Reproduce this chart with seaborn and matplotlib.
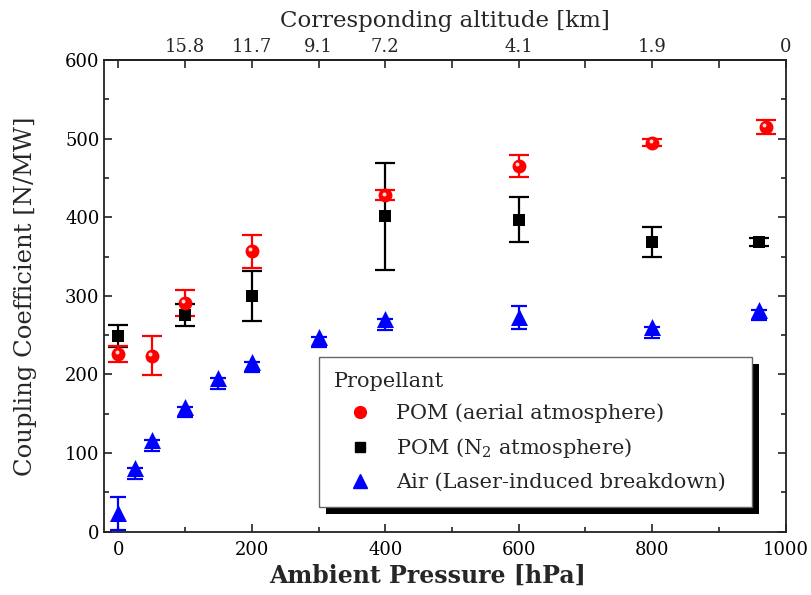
import matplotlib
matplotlib.use("Agg")
import matplotlib.pyplot as plt
import matplotlib.transforms as mtransforms
from matplotlib.lines import Line2D
from matplotlib import patheffects as pe
from matplotlib.ticker import MultipleLocator, FixedLocator
import pandas as pd
import seaborn as sns

# ---- data ----
aerial_p = [0, 50, 100, 200, 400, 600, 800, 970]
aerial_c = [226, 224, 291, 357, 428, 465, 495, 515]
aerial_err = [10, 25, 17, 21, 6, 14, 5, 9]

n2_p = [0, 100, 200, 400, 600, 800, 960]
n2_c = [249, 275, 300, 401, 397, 368, 368]
n2_err = [14, 14, 32, 68, 29, 19, 5]

air_p = [0, 25, 50, 100, 150, 200, 300, 400, 600, 800, 960]
air_c = [24, 81, 117, 159, 195, 216, 248, 270, 273, 260, 282]
air_err_lo = [22, 14, 14, 13, 14, 13, 13, 14, 15, 13, 13]
air_err_hi = [20, 0, 0, 0, 0, 0, 0, 0, 14, 0, 0]

alt_pos = [100, 200, 300, 400, 600, 800, 1000]
alt_labels = ["15.8", "11.7", "9.1", "7.2", "4.1", "1.9", "0"]

labels = ["POM (aerial atmosphere)", "POM (N$_2$ atmosphere)",
          "Air (Laser-induced breakdown)"]

sns.set_theme(style="ticks")
plt.rcParams["font.family"] = ["DejaVu Serif"]
plt.rcParams["mathtext.fontset"] = "dejavuserif"

fig = plt.figure(figsize=(8.11, 5.95), dpi=100)
ax = fig.add_axes([0.1286, 0.1064, 0.8402, 0.7928])

df_a = pd.DataFrame({"p": aerial_p, "c": aerial_c, "e": aerial_err})
df_n = pd.DataFrame({"p": n2_p, "c": n2_c, "e": n2_err})
df_b = pd.DataFrame({"p": air_p, "c": air_c, "lo": air_err_lo, "hi": air_err_hi})

ekw = dict(fmt="none", elinewidth=1.6, capthick=1.6)
ax.errorbar(df_b["p"], df_b["c"], yerr=[df_b["lo"], df_b["hi"]],
            ecolor="#0000ff", zorder=2, capsize=6, **ekw)
ax.errorbar(df_n["p"], df_n["c"], yerr=df_n["e"], ecolor="black", zorder=2,
            capsize=7, **ekw)
ax.errorbar(df_a["p"], df_a["c"], yerr=df_a["e"], ecolor="#ff0000", zorder=2,
            capsize=7, **ekw)

sns.scatterplot(data=df_b, x="p", y="c", marker="^", s=150, color="#0000ff",
                linewidth=0, ax=ax, zorder=3)
sns.scatterplot(data=df_n, x="p", y="c", marker="s", s=85, color="black",
                linewidth=0, ax=ax, zorder=3)
sns.scatterplot(data=df_a, x="p", y="c", marker="o", s=100, color="#ff0000",
                linewidth=0, ax=ax, zorder=4)
hl = mtransforms.offset_copy(ax.transData, fig=fig, x=-1.2, y=1.2, units="points")
ax.scatter(df_a["p"], df_a["c"], s=8, color="#ffd8d8", linewidth=0,
           transform=hl, zorder=5)

ax.set_xlim(-21, 1000)
ax.set_ylim(0, 600)
ax.xaxis.set_major_locator(MultipleLocator(200))
ax.xaxis.set_minor_locator(MultipleLocator(100))
ax.yaxis.set_major_locator(MultipleLocator(100))
ax.yaxis.set_minor_locator(MultipleLocator(50))
ax.tick_params(which="both", direction="in", right=True, top=False,
               width=1.2, colors="#222222", labelcolor="black", labelsize=13)
ax.tick_params(which="major", length=6)
ax.tick_params(which="minor", length=3.5)
ax.tick_params(axis="x", pad=7)
for s in ax.spines.values():
    s.set_linewidth(1.3)
    s.set_color("#222222")

ax.set_xlabel("Ambient Pressure [hPa]", fontsize=17, fontweight="bold",
              labelpad=3, x=0.475)
ax.set_ylabel("Coupling Coefficient [N/MW]", fontsize=17.5, labelpad=20)

sec = ax.secondary_xaxis("top")
sec.xaxis.set_major_locator(FixedLocator(list(range(0, 1001, 100))))
lab_map = dict(zip(alt_pos, alt_labels))
sec.set_xticklabels([lab_map.get(v, "") for v in range(0, 1001, 100)])
sec.tick_params(direction="in", length=6, width=1.2, labelsize=13, pad=3)
sec.spines["top"].set_linewidth(1.3)
sec.set_xlabel("Corresponding altitude [km]", fontsize=16.5, labelpad=8)

handles = [
    Line2D([], [], marker="o", ls="none", color="#ff0000", markersize=8.5),
    Line2D([], [], marker="s", ls="none", color="black", markersize=7.5),
    Line2D([], [], marker="^", ls="none", color="#0000ff", markersize=10),
]
leg = ax.legend(handles, labels, title="Propellant", loc="upper left",
                bbox_to_anchor=(0.315, 0.0, 0.635, 0.37), mode="expand",
                borderaxespad=0, fontsize=15, title_fontsize=15, frameon=True,
                fancybox=False, alignment="left", handletextpad=0.5,
                labelspacing=0.62, borderpad=0.7, handlelength=2.5)
fr = leg.get_frame()
fr.set_edgecolor("#666666")
fr.set_linewidth(1.0)
fr.set_facecolor("white")
fr.set_alpha(1)
fr.set_path_effects([pe.SimplePatchShadow(offset=(5, -5), shadow_rgbFace="black",
                                          alpha=1.0), pe.Normal()])

fig.savefig("out.png", dpi=100)
